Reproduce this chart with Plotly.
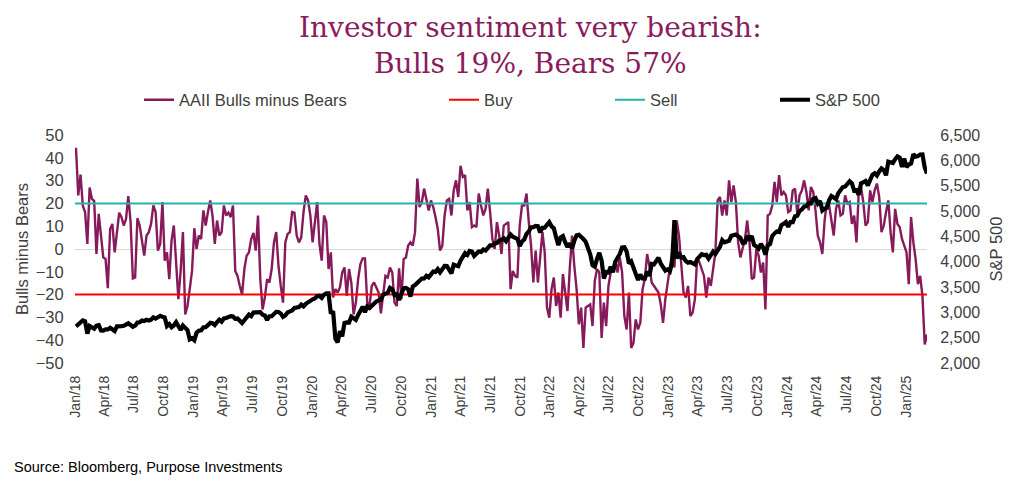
import pandas as pd
import plotly.graph_objects as go

# ---------------- data ----------------
aaii_bulls_minus_bears = [
    44.4, 23.5, 32.6, 19.0, 16.2, 2.2, 27.0, 22.0, 21.0, -2.2, 15.4, 5.9, -3.7, -4.4, -17.2,
    8.8, 11.0, -1.5, 8.8, 15.9, 14.0, 10.3, 13.2, 23.2, 11.8, -12.9, -12.5, 13.5, 10.3, 4.4, -2.9,
    5.9, 7.4, 11.0, 19.1, 16.2, -0.7, 2.2, 20.6, -5.1, -1.5, -13.2, 3.7, 10.3, -4.4, -22.0, -9.6,
    7.4, -28.7, -25.0, -17.6, -9.6, 9.1, 0.0, 5.9, 4.4, 16.9, 10.3, 16.2, 21.3, 14.7, 2.2, 12.5, 5.9,
    7.4, 19.1, 14.7, 15.9, 14.0, 19.1, -9.6, -11.8, -16.2, -19.9, -8.8, -2.9, -1.5, 4.4, 7.1, -0.7,
    14.7, -13.2, -26.5, -21.3, -13.2, -14.7, -8.8, 2.9, 7.4, -7.4, -16.2, -23.5, 2.9, 6.6, 7.4, 16.2, 15.9,
    5.9, 2.9, 5.1, 16.2, 23.5, 21.3, 14.7, 2.9, 13.2, 20.6, 2.2, -5.1, 14.7, 11.8, -8.8, -1.5, -21.3,
    -17.6, -19.1, -16.9, -10.3, -8.1, -20.6, -8.8, -14.7, -28.7, -23.5, -13.2, -6.6, -4.1, -4.1, -23.5, -25.0, -16.2,
    -14.7, -16.9, -19.1, -28.2, -19.1, -11.8, -12.5, -8.1, -10.3, -23.5, -25.0, -8.5, -22.0, -4.4, -3.7, 1.5, 2.9, 1.5,
    7.4, 30.9, 18.4, 20.6, 26.5, 21.3, 16.9, 21.3, 18.4, 14.0, 8.8, -0.7, 1.5, 14.7, 21.3,
    22.0, 14.7, 25.7, 30.1, 22.8, 36.5, 31.6, 32.4, 16.9, 20.6, 9.6, 10.3, 9.6, 24.3, 19.1,
    14.7, 17.6, 26.5, 16.2, 4.4, 0.0, 11.8,
    5.9, -2.2, 10.3, 11.0, 11.8, -17.6, -9.6, -11.8, -12.5, 10.3,
    19.1, 19.1, 24.3, 11.8, 1.5, -14.7, -0.7, -14.7, -1.5,
    7.4, -1.5, -25.7, -30.1, -17.6, -12.5, -25.0, -19.1, -30.1, -11.0,
    -20.6, -27.2, -8.8, 5.9, -7.4, -17.6, -33.0, -25.7, -43.4, -25.7,
    -25.0, -24.3, -33.8, -14.0, -8.8, -10.3, -39.0, -23.5, -33.8, -16.2,
    -10.3, -8.8, -5.1, -10.3, -3.7, -10.3, -29.4, -35.3, -19.1, -43.4,
    -41.2, -30.9, -35.3, -32.4, -17.6, -13.2, -2.2, -7.4, -14.7, -16.2,
    -17.6, -19.1, -24.3, -32.4, -22.0, -14.7, -8.8, -1.5, -8.1, 12.5,
    5.9, -7.4, -19.1, -21.3, -16.2, -29.4, -27.9, -22.0, -3.7, -5.9,
    -8.8, -11.8, -21.3, -12.5, -16.2, -7.4, -1.5, 21.3, 22.8, 14.7,
    21.3, 14.7, 30.1, 20.6, 27.9, 20.6, 2.9, -3.7, 0.0,
    4.4, 12.5, 2.9, -13.2, -12.5, 0.0, -2.9, -10.3, -5.9, -26.5,
    14.7, 15.4, 19.1, 29.4, 20.6, 32.4, 23.5, 25.0, 23.5,
    16.2, 16.9, 25.7, 26.5, 15.4, 23.5, 25.7, 30.1, 25.0, 16.9,
    27.2, 25.0, 16.9, 5.9, 2.9, -2.2, 12.5, 20.6, 19.1, 11.8,
    5.9, 17.6, 21.3, 14.7, 15.4, 23.5, 19.9, 20.6, 11.0, 14.7,
    2.9, 25.0, 27.2, 20.6, 10.3, 11.8, 25.7, 20.6, 25.7, 28.7,
    22.8, 7.4, 10.3, 16.2, 21.3, 7.4, -1.5, 17.6, 11.0, 9.6,
    4.4, 1.5, -1.5, -15.4, 14.0, 2.9, -4.4, -15.4, -11.8, -20.6,
    -41.9, -37.5,
]

sp500 = [
    # 2018
    2724, 2767, 2798, 2839, 2822, 2581, 2731, 2703, 2677, 2739, 2747, 2643, 2641,
    2663, 2663, 2693, 2667, 2630, 2723, 2720, 2727, 2735, 2772, 2783, 2749, 2716,
    2737, 2798, 2804, 2837, 2827, 2853, 2840, 2856, 2901, 2878, 2904, 2931, 2914,
    2901, 2729, 2769, 2705, 2740, 2807, 2730, 2650, 2738, 2696, 2651, 2467, 2489,
    # 2019
    2448, 2596, 2636, 2643, 2706, 2707, 2746, 2793, 2784, 2749, 2808, 2855, 2815,
    2879, 2888, 2905, 2926, 2918, 2871, 2877, 2823, 2788, 2843, 2892, 2954, 2925,
    2996, 3000, 2995, 3003, 2953, 2938, 2848, 2923, 2924, 2978, 3010, 3006, 2977,
    2910, 2938, 2998, 3010, 3037, 3085, 3096, 3104, 3153, 3117, 3168, 3205, 3240,
    # 2020
    3258, 3275, 3317, 3325, 3284, 3345, 3374, 3373, 2979, 3024, 2481, 2409, 2630,
    2527, 2790, 2800, 2798, 2912, 2881, 2852, 2948, 3030, 3112, 3002, 3115, 3084,
    3130, 3152, 3215, 3236, 3246, 3349, 3373, 3385, 3484, 3455, 3339, 3357, 3246,
    3380, 3477, 3483, 3453, 3310, 3510, 3537, 3582, 3629, 3666, 3668, 3722, 3690, 3756,
    # 2021
    3803, 3795, 3853, 3788, 3871, 3916, 3913, 3829, 3768, 3939, 3915, 3910,
    4020, 4097, 4170, 4135, 4211, 4201, 4112, 4159, 4200, 4192, 4239, 4221, 4266,
    4320, 4320, 4360, 4367, 4419, 4429, 4460, 4405, 4470, 4537, 4493, 4473, 4449, 4308,
    4399, 4438, 4549, 4596, 4680, 4683, 4704, 4701, 4577, 4667, 4669, 4726, 4778,
    # 2022
    4697, 4659, 4483, 4327, 4478, 4504, 4380, 4289, 4363, 4260, 4412, 4520, 4530,
    4500, 4447, 4394, 4288, 4147, 3930, 3901, 4058, 4176, 4018, 3667, 3796, 3785,
    3902, 3790, 3999, 4072, 4152, 4280, 4284, 4199, 3967, 4006, 3901, 3758, 3640,
    3745, 3670, 3666, 3808, 3720, 3956, 3946, 4027, 4077, 3963, 3895, 3822, 3849,
    # 2023
    3808, 3983, 4820, 4060, 4180, 4081, 4090, 4013, 3981, 3992, 3960, 3948, 4051,
    4090, 4146, 4130, 4135, 4061, 4130, 4198, 4151, 4221, 4293, 4426, 4381, 4396,
    4411, 4510, 4535, 4537, 4501, 4468, 4370, 4376, 4507, 4451, 4505, 4330, 4299,
    4258, 4349, 4278, 4137, 4317, 4347, 4508, 4557, 4595, 4586, 4720, 4746, 4783,
    # 2024
    4689, 4780, 4780, 4894, 4906, 4997, 5030, 5087, 5096, 5157, 5150, 5241, 5254,
    5147, 5199, 5011, 5048, 5064, 5214, 5297, 5268, 5235, 5352, 5433, 5473, 5483,
    5537, 5585, 5544, 5399, 5410, 5319, 5543, 5570, 5592, 5503, 5596, 5714, 5745,
    5699, 5780, 5841, 5809, 5705, 5973, 5949, 5948, 6021, 6075, 6051, 5867, 6037,
    # 2025
    5869, 5918, 5937, 6119, 6071, 6083, 6115, 6117, 5861, 5739,
]

buy_level = [-20, -20]
sell_level = [20, 20]
date_span = ["2018-01-01", "2025-03-06"]
last_date = "2025-03-06"

tick_labels = [
    "Jan/18", "Apr/18", "Jul/18", "Oct/18", "Jan/19", "Apr/19", "Jul/19", "Oct/19",
    "Jan/20", "Apr/20", "Jul/20", "Oct/20", "Jan/21", "Apr/21", "Jul/21", "Oct/21",
    "Jan/22", "Apr/22", "Jul/22", "Oct/22", "Jan/23", "Apr/23", "Jul/23", "Oct/23",
    "Jan/24", "Apr/24", "Jul/24", "Oct/24", "Jan/25",
]

aaii_dates = pd.date_range(end=last_date, periods=len(aaii_bulls_minus_bears), freq="W-THU")
sp_dates = pd.date_range(end=last_date, periods=len(sp500), freq="W-THU")
tick_dates = pd.date_range("2018-01-01", periods=len(tick_labels), freq="QS")

# ---------------- style ----------------
MAG = "#861A5A"
TITLE_C = "#8A1C5C"
TXT = "#404040"
FONT = "Liberation Sans, Arial, sans-serif"

OFF = 8  # default page body margin
W, H = 1024 - OFF, 491 - OFF
L, R, T, B = 75 - OFF, 97, 135 - OFF, 128
pw, ph = W - L - R, H - T - B


def px_x(px):
    return (px - OFF - L) / pw


def px_y(py):
    return (H - B - (py - OFF)) / ph


def cx(px):
    return (px - OFF) / W


def cy(py):
    return 1 - (py - OFF) / H


fig = go.Figure()
fig.add_trace(go.Scatter(x=aaii_dates, y=aaii_bulls_minus_bears, mode="lines",
                         name="AAII Bulls minus Bears", line=dict(color=MAG, width=2.4),
                         legend="legend"))
fig.add_trace(go.Scatter(x=date_span, y=buy_level, mode="lines", name="Buy",
                         line=dict(color="#FF0000", width=2), legend="legend2"))
fig.add_trace(go.Scatter(x=date_span, y=sell_level, mode="lines", name="Sell",
                         line=dict(color="#22B3AB", width=2), legend="legend3"))
fig.add_trace(go.Scatter(x=sp_dates, y=sp500, mode="lines", name="S&P 500", yaxis="y2",
                         line=dict(color="#000000", width=4.2), legend="legend4"))

leg_common = dict(orientation="h", yanchor="middle", xanchor="left",
                  xref="container", yref="container",
                  font=dict(family=FONT, size=16.5, color=TXT), bgcolor="rgba(0,0,0,0)",
                  itemwidth=30, y=cy(100))

fig.update_layout(
    width=W, height=H,
    margin=dict(l=L, r=R, t=T, b=B, autoexpand=False),
    paper_bgcolor="white", plot_bgcolor="white",
    font=dict(family=FONT, color=TXT),
    legend=dict(leg_common, x=cx(139)),
    legend2=dict(leg_common, x=cx(444)),
    legend3=dict(leg_common, x=cx(610)),
    legend4=dict(leg_common, x=cx(775)),
    xaxis=dict(range=date_span, tickvals=tick_dates, ticktext=tick_labels, tickangle=-90,
               showgrid=False, showline=False, zeroline=False, ticks="outside",
               ticklen=6, tickcolor="rgba(0,0,0,0)", tickfont=dict(size=14, color=TXT, family=FONT)),
    yaxis=dict(range=[-50, 50], dtick=10, showgrid=False, zeroline=True,
               zerolinecolor="#D9D9D9", zerolinewidth=1, showline=False,
               ticks="outside", ticklen=7, tickcolor="rgba(0,0,0,0)",
               tickfont=dict(size=16.5, color=TXT, family=FONT),
               title=dict(text="Bulls minus Bears", font=dict(size=16.5, color=TXT, family=FONT), standoff=2)),
    yaxis2=dict(range=[2000, 6500], dtick=500, tickformat=",", overlaying="y", side="right",
                showgrid=False, zeroline=False, showline=False,
                ticks="outside", ticklen=9, tickcolor="rgba(0,0,0,0)",
                tickfont=dict(size=16, color=TXT, family=FONT),
                title=dict(text="S&P 500", font=dict(size=16.5, color=TXT, family=FONT), standoff=11)),
    showlegend=True,
)

fig.add_annotation(text="Investor sentiment very bearish:<br>Bulls 19%, Bears 57%",
                   xref="paper", yref="paper",
                   x=px_x(530), y=px_y(45), xanchor="center", yanchor="middle", showarrow=False,
                   font=dict(family="DejaVu Serif, Liberation Serif, serif", size=28, color=TITLE_C))
fig.add_annotation(text="Source: Bloomberg, Purpose Investments", xref="paper", yref="paper",
                   x=px_x(12), y=px_y(467), xanchor="left", yanchor="middle", showarrow=False,
                   font=dict(family=FONT, size=14.5, color="#000000"))

fig.write_html("out.html")
